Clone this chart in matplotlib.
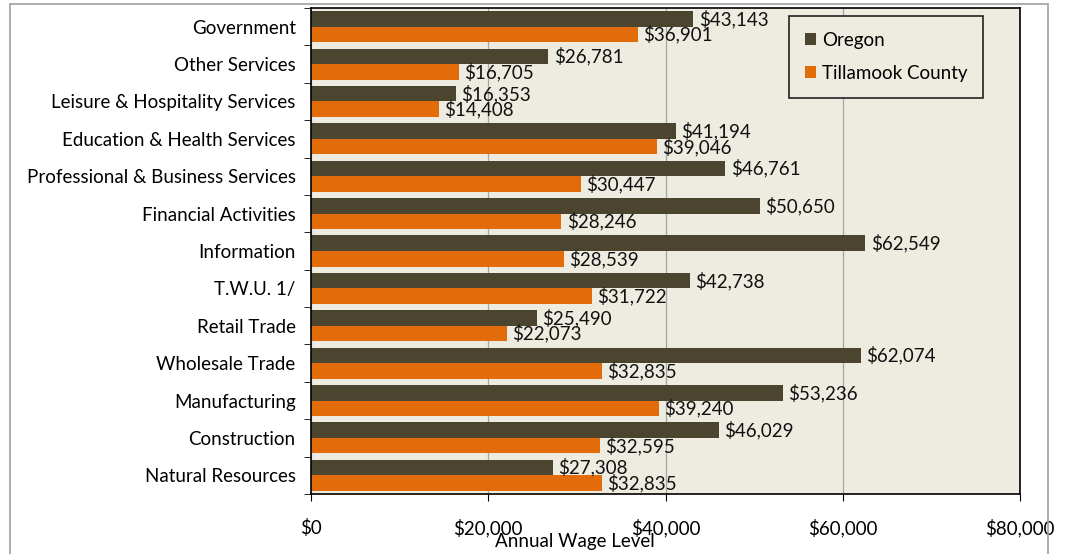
import matplotlib.pyplot as plt
import numpy as np
from matplotlib.patches import Rectangle
from matplotlib.ticker import FuncFormatter

plt.rcParams['font.family'] = ['Lato', 'DejaVu Sans']

industries = ['Government', 'Other Services', 'Leisure & Hospitality Services',
              'Education & Health Services', 'Professional & Business Services',
              'Financial Activities', 'Information', 'T.W.U. 1/', 'Retail Trade',
              'Wholesale Trade', 'Manufacturing', 'Construction', 'Natural Resources']
oregon = [43143, 26781, 16353, 41194, 46761, 50650, 62549, 42738, 25490,
          62074, 53236, 46029, 27308]
tillamook = [36901, 16705, 14408, 39046, 30447, 28246, 28539, 31722, 22073,
             32835, 39240, 32595, 32835]

c_or = '#4B452F'
c_ti = '#E36C0A'
fs = 13.5

fig = plt.figure(figsize=(10.67, 5.54), dpi=100)
ax = fig.add_axes([311 / 1067, 1 - 494 / 554, 709 / 1067, 486 / 554])
ax.set_facecolor('#EEEBE0')

n = len(industries)
y = np.arange(n)
h = 0.415
b1 = ax.barh(y - h / 2, oregon, height=h, color=c_or, label='Oregon', zorder=2)
b2 = ax.barh(y + h / 2, tillamook, height=h, color=c_ti, label='Tillamook County', zorder=2)

for bars in (b1, b2):
    for bar in bars:
        v = bar.get_width()
        ax.text(v + 600, bar.get_y() + bar.get_height() / 2, '${:,.0f}'.format(v),
                va='center', ha='left', fontsize=fs, color='#111111', zorder=3)

ax.set_xlim(0, 80000)
ax.set_ylim(n - 0.5, -0.5)
ax.set_xticks([0, 20000, 40000, 60000, 80000])
ax.xaxis.set_major_formatter(FuncFormatter(lambda v, p: '${:,.0f}'.format(v)))
ax.tick_params(axis='x', labelsize=fs, length=5, direction='out', pad=13)
ax.set_yticks(y)
ax.set_yticklabels(industries, fontsize=fs)
ax.set_yticks(np.arange(n + 1) - 0.5, minor=True)
ax.tick_params(axis='y', which='major', length=0, pad=11)
ax.tick_params(axis='y', which='minor', length=5, direction='out')
ax.grid(axis='x', color='#A6A6A6', linewidth=0.9, zorder=1)
for s in ax.spines.values():
    s.set_linewidth(1.2)
ax.set_xlabel('Annual Wage Level', fontsize=fs)
ax.xaxis.label.set_va('center')
ax.xaxis.set_label_coords(0.372, -0.097)

leg = ax.legend(loc='upper right', bbox_to_anchor=(0.948, 0.9835), fontsize=fs,
                frameon=True, fancybox=False, edgecolor='#222222', facecolor='#EEEBE0',
                framealpha=1, handlelength=0.6, handleheight=0.6, handletextpad=0.3,
                labelspacing=0.85, borderpad=0.85, borderaxespad=0)
leg.get_frame().set_linewidth(1.2)

# thin frame around the whole chart
fig.patches.append(Rectangle((10 / 1067, -0.05), 1038 / 1067, 1.05 - 4 / 554,
                             transform=fig.transFigure, fill=False,
                             edgecolor='#A0A0A0', linewidth=1.2))

fig.savefig('out.png', dpi=100)
